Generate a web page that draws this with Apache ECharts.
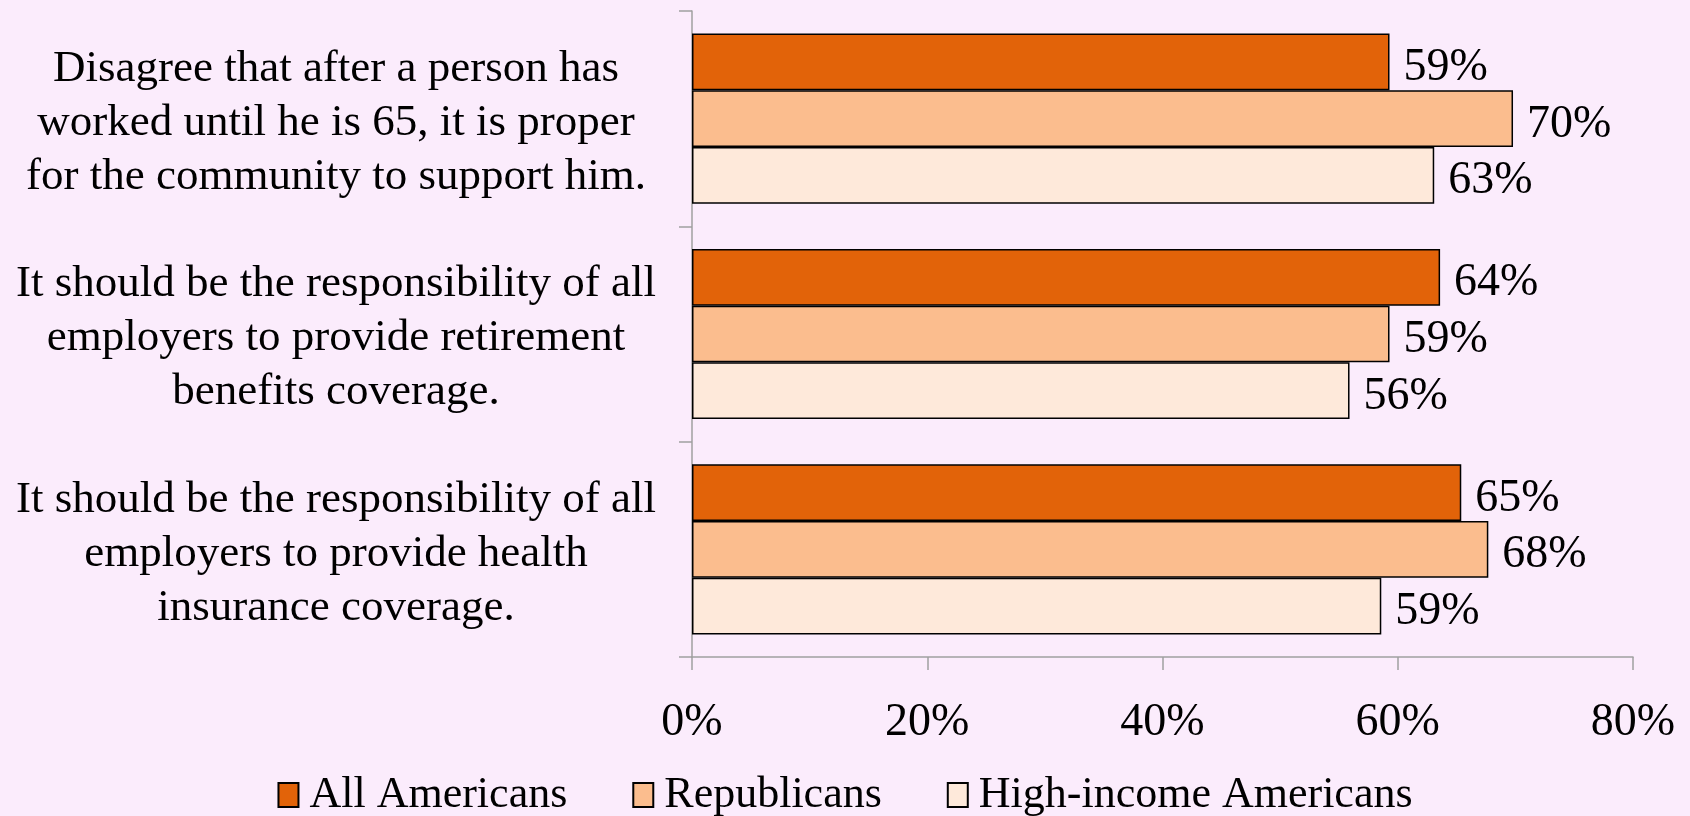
<!DOCTYPE html>
<html>
<head>
<meta charset="utf-8">
<script src="https://cdn.jsdelivr.net/npm/echarts@6/dist/echarts.min.js"></script>
<style>
html,body{margin:0;padding:0;background:#FBECFC;}
#chart{width:1690px;height:816px;}
</style>
</head>
<body>
<div id="chart"></div>
<script>
const categories = [
  "Disagree that after a person has\nworked until he is 65, it is proper\nfor the community to support him.",
  "It should be the responsibility of all\nemployers to provide retirement\nbenefits coverage.",
  "It should be the responsibility of all\nemployers to provide health\ninsurance coverage."
];
const seriesNames = ["All Americans", "Republicans", "High-income Americans"];
const allAmericans = [59.3, 63.6, 65.4];
const republicans = [69.8, 59.3, 67.7];
const highIncome = [63.1, 55.9, 58.6];
const xTicks = [0, 20, 40, 60, 80];

const colors = ["#E26309", "#FBBD8E", "#FEE9DA"];
const FONT = "Liberation Serif";
const chart = echarts.init(document.getElementById('chart'));
const values = [allAmericans, republicans, highIncome];

chart.setOption({
  backgroundColor: "#FBECFC",
  animation: false,
  textStyle: { fontFamily: FONT },
  grid: { left: 692, right: 57, top: 11, bottom: 159, containLabel: false },
  legend: {
    bottom: -6,
    left: 'center',
    itemWidth: 20,
    itemHeight: 24,
    itemGap: 65,
    textStyle: { fontFamily: FONT, fontSize: 44, color: "#000", padding: [0, 0, 0, 6] },
    data: seriesNames.map(n => ({ name: n, icon: 'rect' }))
  },
  xAxis: {
    type: 'value',
    min: xTicks[0],
    max: xTicks[xTicks.length - 1],
    interval: 20,
    axisLine: { show: true, lineStyle: { color: "#A0A0A0", width: 1.5 } },
    axisTick: { show: true, length: 13, lineStyle: { color: "#A0A0A0", width: 1.5 } },
    splitLine: { show: false },
    axisLabel: { margin: 43, fontFamily: FONT, fontSize: 46, color: "#000", formatter: v => v + "%" }
  },
  yAxis: {
    type: 'category',
    inverse: true,
    data: categories,
    axisLine: { show: true, lineStyle: { color: "#A0A0A0", width: 1.5 } },
    axisTick: { show: true, length: 13, lineStyle: { color: "#A0A0A0", width: 1.5 } },
    axisLabel: {
      margin: 356,
      align: 'center',
      color: "#000",
      formatter: v => '{s| }\n' + v.split('\n').map(l => '{a|' + l + '}').join('\n'),
      rich: {
        s: { fontSize: 1, lineHeight: 9 },
        a: { fontFamily: FONT, fontSize: 45, lineHeight: 54, color: "#000" }
      }
    }
  },
  series: seriesNames.map((name, i) => ({
    name: name,
    type: 'bar',
    data: values[i],
    barGap: '0%',
    barCategoryGap: '21%',
    itemStyle: { color: colors[i], borderColor: "#000", borderWidth: 1.5 },
    label: {
      show: true,
      position: 'right',
      distance: 14,
      offset: [0, 6],
      fontFamily: FONT,
      fontSize: 46,
      color: "#000",
      formatter: p => Math.round(p.value) + "%"
    }
  }))
});
</script>
</body>
</html>
